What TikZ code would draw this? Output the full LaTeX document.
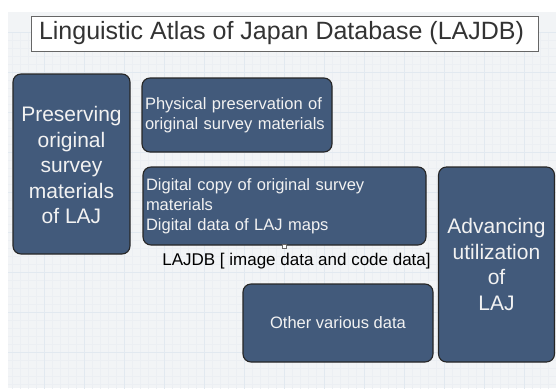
\documentclass[tikz,border=0pt]{standalone}
\usepackage{fontspec}
\setmainfont{Liberation Sans}
\definecolor{boxfill}{HTML}{425A7B}
\definecolor{boxtext}{HTML}{F2F2F2}
\definecolor{bg}{HTML}{F2F4F6}
\definecolor{gridc}{HTML}{E2E9F0}
\definecolor{gridm}{HTML}{ECEFF3}
\begin{document}
\begin{tikzpicture}[x=1pt,y=-1pt,
  bluebox/.style={draw=black!85,line width=1.1pt,fill=boxfill,rounded corners=8pt,inner sep=0pt,text=boxtext},
  bigtext/.style={font=\fontsize{21}{25.5}\selectfont,align=center,text=boxtext},
  smalltext/.style={font=\fontsize{16.5}{20}\selectfont,text=boxtext}]
\useasboundingbox (0,0) rectangle (556,388);
\fill[white] (0,0) rectangle (556,388);
\fill[bg] (8,12) rectangle (556,388);
\begin{scope}
\clip (8,12) rectangle (556,388);
\draw[gridm,line width=0.3pt,shift={(4pt,-32pt)},step=8pt] (0,0) grid (560,400);
\draw[gridc,line width=0.5pt,shift={(4pt,-32pt)},step=40pt] (0,0) grid (560,400);
\end{scope}
% title
\node[draw=black!60,fill=white,line width=0.8pt,minimum width=507,minimum height=35,inner sep=0pt] (title) at (284.5,33.5) {};
\node[font=\fontsize{25}{29}\selectfont,text=black!80] (titlet) at ([xshift=-3pt]title.center) {Linguistic Atlas of Japan Database (LAJDB)};
% left box
\node[bluebox,minimum width=117,minimum height=180] (pres) at (71.5,164) {};
\node[bigtext] (prest) at ([yshift=-1pt]pres.center) {Preserving\\original\\survey\\materials\\of LAJ};
% physical
\node[bluebox,minimum width=190,minimum height=74] (phys) at (237,115) {};
\node[smalltext,text width=184,align=left] (physt) at (phys.center) {Physical preservation of\\original survey materials};
% digital
\node[bluebox,minimum width=283,minimum height=78] (digi) at (284.5,206) {};
\node[smalltext,text width=277,align=left] (digit) at (digi.center) {Digital copy of original survey\\materials\\Digital data of LAJ maps};
\node[draw=black!60,fill=white,line width=0.4pt,minimum size=4pt,inner sep=0pt] (handle) at (284,246) {};
\node[font=\fontsize{17}{20}\selectfont,text=black] (lajdb) at (296.5,261) {LAJDB [ image data and code data]};
% other
\node[bluebox,minimum width=190,minimum height=78] (other) at (338,323) {};
\node[smalltext] (othert) at (other.center) {Other various data};
% advancing
\node[bluebox,minimum width=116,minimum height=195] (adv) at (496.5,264.5) {};
\node[bigtext] (advt) at (adv.center) {Advancing\\utilization\\of\\LAJ};
\end{tikzpicture}
\end{document}
